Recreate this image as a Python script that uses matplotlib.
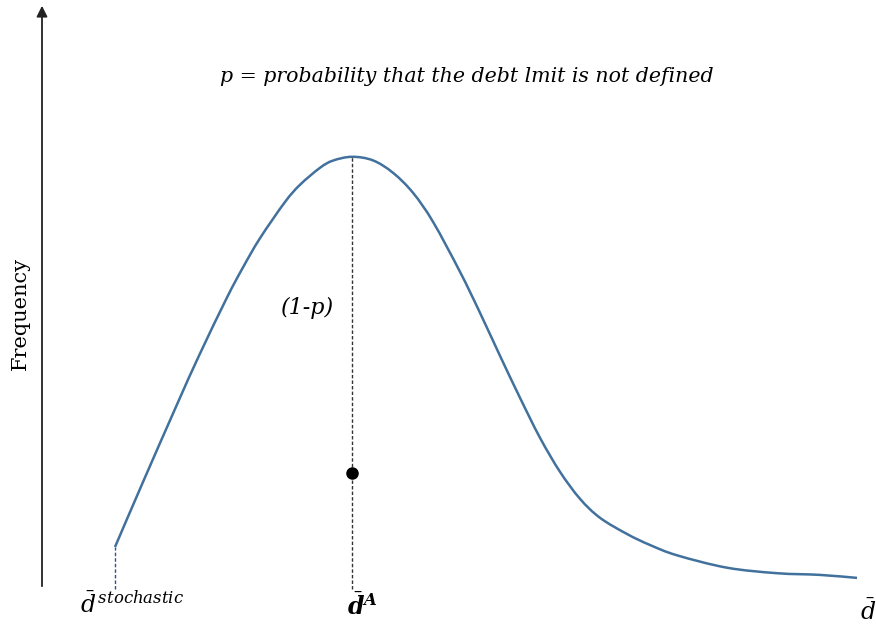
import numpy as np
import matplotlib
matplotlib.use("Agg")
import matplotlib.pyplot as plt
from matplotlib.path import Path
from matplotlib.patches import PathPatch

plt.rcParams["mathtext.fontset"] = "dejavuserif"

# curve: debt limit d vs frequency (arbitrary units)
d_vals = [0.73, 1.01, 1.35, 1.57, 1.85, 2.01, 2.18, 2.43, 2.58, 2.78, 2.91,
          3.10, 3.31, 3.51, 3.71, 3.91, 4.18, 4.38, 4.58, 4.78, 4.98, 5.18,
          5.38, 5.58, 5.85, 6.08, 6.35, 6.85, 7.35, 7.78, 8.15]
freq_vals = [0.42, 1.07, 1.845, 2.333, 2.915, 3.216, 3.508, 3.87, 4.042, 4.212, 4.284,
             4.322, 4.286, 4.162, 3.962, 3.672, 3.172, 2.762, 2.332, 1.912, 1.512, 1.172,
             0.902, 0.712, 0.55, 0.44, 0.337, 0.213, 0.158, 0.141, 0.111]

d_stoch = 0.73      # lower bound of the distribution
d_A = 3.10          # mode
dot_freq = 1.16     # marked point on the mode line

x_labels = [r"$\bar{d}^{\,stochastic}$", r"$\bar{\mathbfit{d}}^{\mathbfit{A}}$", r"$\bar{d}$"]
x_label_pos = [0.90, 3.20, 8.26]
x_label_y = [-0.16, -0.17, -0.23]


def smooth_path(xs, ys):
    # draw through the points with Catmull-Rom style bezier segments
    pts = np.column_stack([xs, ys])
    verts = [pts[0]]
    codes = [Path.MOVETO]
    n = len(pts)
    for i in range(n - 1):
        p0 = pts[i - 1] if i > 0 else pts[i]
        p1, p2 = pts[i], pts[i + 1]
        p3 = pts[i + 2] if i + 2 < n else pts[i + 1]
        verts += [p1 + (p2 - p0) / 6, p2 - (p3 - p1) / 6, p2]
        codes += [Path.CURVE4] * 3
    return Path(verts, codes)


fig = plt.figure(figsize=(8.76, 6.3), dpi=100)
ax = fig.add_axes([0, 0, 1, 1])
ax.set_xlim(-0.42, 8.34)
ax.set_ylim(-0.41, 5.89)
ax.axis("off")

# axes with arrows
ax.annotate("", xy=(0, 5.86), xytext=(0, 0),
            arrowprops=dict(arrowstyle="-|>", mutation_scale=16, lw=1.3, color="#222222"))
ax.annotate("", xy=(8.40, 0), xytext=(0, 0),
            arrowprops=dict(arrowstyle="-|>", mutation_scale=16, lw=1.3, color="black"))

# density curve
ax.add_patch(PathPatch(smooth_path(d_vals, freq_vals), fill=False,
                       edgecolor="#41719c", lw=1.8))

# dashed guides
ax.plot([d_A, d_A], [0, max(freq_vals)], color="#333333", lw=1.0, ls=(0, (2.5, 1.5)))
ax.plot([d_stoch, d_stoch], [0, freq_vals[0]], color="#2f4f8f", lw=1.0, ls=(0, (2.5, 1.5)))
ax.plot([d_A], [dot_freq], "o", color="black", ms=8)

serif = "DejaVu Serif"
ax.text(4.25, 5.13, "p = probability that the debt lmit is not defined",
        ha="center", va="center", fontsize=14.8, style="italic", family=serif)
ax.text(2.66, 2.81, "(1-p)", ha="center", va="center", fontsize=16,
        style="italic", family=serif)
ax.text(-0.22, 2.76, "Frequency", ha="center", va="center", rotation=90,
        fontsize=15, family=serif)

labels = []
for lab, xp, yp in zip(x_labels, x_label_pos, x_label_y):
    labels.append(ax.text(xp, yp, lab, ha="center", va="center", fontsize=17))

try:
    fig.canvas.draw()
except ValueError:
    labels[1].set_text(r"$\mathbf{\bar{d}^{A}}$")

fig.savefig("out.png", dpi=100)
